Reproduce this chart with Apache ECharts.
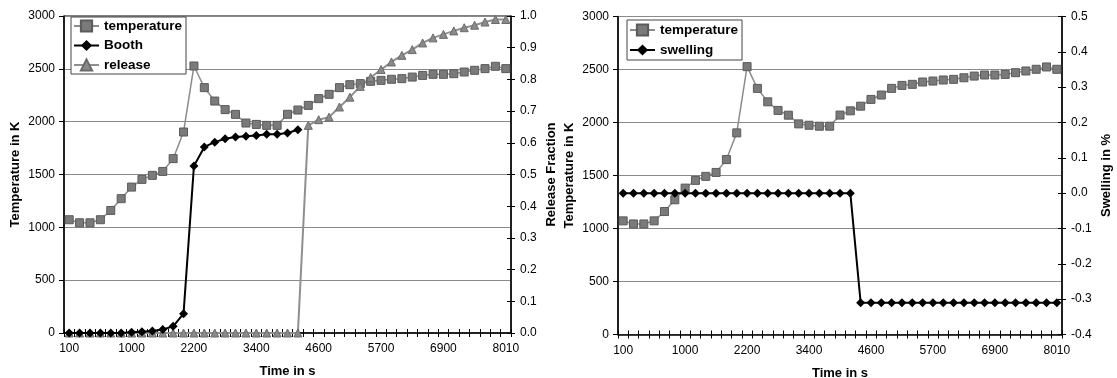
<!DOCTYPE html>
<html>
<head>
<meta charset="utf-8">
<script src="https://cdn.jsdelivr.net/npm/echarts@6/dist/echarts.min.js"></script>
<style>
html,body{margin:0;padding:0;background:#fff;}
#c{width:1117px;height:378px;}
</style>
</head>
<body>
<div id="c"></div>
<script>
// ---- data ----
var times = [100,250,400,550,700,850,1000,1200,1400,1600,1800,2000,2200,2400,2600,2800,3000,3200,3400,3600,3800,4000,4200,4400,4600,4800,5000,5200,5300,5500,5700,5900,6100,6300,6500,6700,6900,7100,7300,7500,7700,7900,8010];
var temperature = [1072,1043,1043,1072,1160,1271,1381,1454,1492,1529,1650,1902,2527,2322,2195,2114,2069,1987,1974,1965,1965,2070,2110,2154,2218,2259,2322,2350,2360,2382,2391,2401,2407,2422,2438,2448,2448,2454,2470,2486,2502,2524,2502];
var booth = [0,0,0,0,0,0,0.002,0.004,0.006,0.011,0.021,0.061,0.527,0.587,0.602,0.613,0.618,0.621,0.623,0.627,0.627,0.631,0.641];
var release = [0,0,0,0,0,0,0,0,0,0,0,0,0,0,0,0,0,0,0,0,0,0,0,0.655,0.673,0.681,0.713,0.744,0.778,0.806,0.831,0.855,0.876,0.894,0.915,0.931,0.942,0.953,0.963,0.971,0.981,0.989,0.989];
var swelling = [0,0,0,0,0,0,0,0,0,0,0,0,0,0,0,0,0,0,0,0,0,0,0,-0.31,-0.31,-0.31,-0.31,-0.31,-0.31,-0.31,-0.31,-0.31,-0.31,-0.31,-0.31,-0.31,-0.31,-0.31,-0.31,-0.31,-0.31,-0.31,-0.31];

var FONT = "'Liberation Sans', Arial, sans-serif";
var chart = echarts.init(document.getElementById('c'), null, {renderer:'canvas'});
function fmt1(v){ if (Math.abs(v) < 1e-9) return '0.0'; return v.toFixed(1); }
function fmt0(v){ return String(Math.round(v)); }

var G0 = {left:64, top:16, width:447, height:317};
var G1 = {left:618, top:16.5, width:444, height:318};
function grid(g, border){
  return {left:g.left, top:g.top, width:g.width, height:g.height, containLabel:false, outerBoundsMode:'none',
    show:border, borderColor:'#000', borderWidth:1, backgroundColor:'transparent'};
}
var lbl = {fontFamily:FONT, fontSize:12, color:'#000'};
var nameStyle = {fontFamily:FONT, fontSize:13, fontWeight:'bold', color:'#000'};

function mainX(gi){
  return {type:'category', gridIndex:gi, data:times, boundaryGap:true, position:'bottom',
    axisLine:{show:true, onZero:false, lineStyle:{color:'#000', width:1.5}},
    axisTick:{show:true, interval:0, inside:false, length:4, lineStyle:{color:'#000'}},
    axisLabel:Object.assign({interval:5, margin:10}, lbl),
    splitLine:{show:false},
    name:'Time in s', nameLocation:'middle', nameGap:32, nameTextStyle:nameStyle};
}
function overlayX(gi){
  return {type:'category', gridIndex:gi, data:times, boundaryGap:true, position:'bottom',
    axisLine:{show:false, onZero:false}, axisLabel:{show:false}, splitLine:{show:false},
    axisTick:{show:true, interval:0, inside:true, length:4, lineStyle:{color:'#000'}}};
}

var option = {
  animation:false,
  backgroundColor:'#fff',
  grid:[grid(G0,true), grid(G1,true), grid(G0,false), grid(G1,false)],
  legend:[
    {orient:'vertical', left:71, top:17, itemWidth:25, itemHeight:14, itemGap:5.5,
     padding:[2,4,2,2], borderColor:'#444', borderWidth:1, backgroundColor:'#fff',
     data:['temperature','Booth','release'], selectedMode:false,
     textStyle:{fontFamily:FONT, fontSize:13.5, fontWeight:'bold', color:'#000'}},
    {orient:'vertical', left:627, top:20, itemWidth:25, itemHeight:14, itemGap:6,
     padding:[3,4,3,2], borderColor:'#444', borderWidth:1, backgroundColor:'#fff',
     data:['temperature','swelling'], selectedMode:false,
     textStyle:{fontFamily:FONT, fontSize:13.5, fontWeight:'bold', color:'#000'}}
  ],
  xAxis:[mainX(0), mainX(1), overlayX(2), overlayX(3)],
  yAxis:[
    {type:'value', gridIndex:0, position:'left', min:0, max:3000, interval:500,
     axisLine:{show:true, lineStyle:{color:'#000', width:1.5}},
     axisTick:{show:true, length:5, lineStyle:{color:'#000'}},
     axisLabel:Object.assign({margin:9, formatter:fmt0}, lbl),
     splitLine:{show:true, lineStyle:{color:'#8a8a8a', width:1}},
     name:'Temperature in K', nameLocation:'middle', nameGap:42, nameTextStyle:nameStyle},
    {type:'value', gridIndex:0, position:'right', min:0, max:1, interval:0.1,
     axisLine:{show:true, lineStyle:{color:'#000', width:1.5}},
     axisTick:{show:true, length:4, lineStyle:{color:'#000'}},
     axisLabel:Object.assign({margin:9, formatter:fmt1}, lbl),
     splitLine:{show:false},
     name:'Release Fraction', nameLocation:'middle', nameGap:34, nameTextStyle:nameStyle},
    {type:'value', gridIndex:1, position:'left', min:0, max:3000, interval:500,
     axisLine:{show:true, lineStyle:{color:'#000', width:1.5}},
     axisTick:{show:true, length:5, lineStyle:{color:'#000'}},
     axisLabel:Object.assign({margin:9, formatter:fmt0}, lbl),
     splitLine:{show:true, lineStyle:{color:'#8a8a8a', width:1}},
     name:'Temperature in K', nameLocation:'middle', nameGap:42, nameTextStyle:nameStyle},
    {type:'value', gridIndex:1, position:'right', min:-0.4, max:0.5, interval:0.1,
     axisLine:{show:true, lineStyle:{color:'#000', width:1.5}},
     axisTick:{show:true, length:4, lineStyle:{color:'#000'}},
     axisLabel:Object.assign({margin:9, formatter:fmt1}, lbl),
     splitLine:{show:false},
     name:'Swelling in %', nameLocation:'middle', nameGap:38, nameTextStyle:nameStyle},
    {type:'value', gridIndex:2, position:'right', min:0, max:1, interval:0.1,
     axisLine:{show:false}, axisLabel:{show:false}, splitLine:{show:false},
     axisTick:{show:true, inside:true, length:4, lineStyle:{color:'#000'}}},
    {type:'value', gridIndex:3, position:'right', min:-0.4, max:0.5, interval:0.1,
     axisLine:{show:false}, axisLabel:{show:false}, splitLine:{show:false},
     axisTick:{show:true, inside:true, length:4, lineStyle:{color:'#000'}}}
  ],
  series:[
    {name:'temperature', type:'line', xAxisIndex:0, yAxisIndex:0, data:temperature,
     symbol:'rect', symbolSize:8, showAllSymbol:true,
     lineStyle:{color:'#8c8c8c', width:1.5}, itemStyle:{color:'#7a7a7a', borderColor:'#5a5a5a', borderWidth:1}},
    {name:'release', type:'line', xAxisIndex:0, yAxisIndex:1, data:release,
     symbol:'triangle', symbolSize:8, showAllSymbol:true,
     lineStyle:{color:'#8f8f8f', width:2}, itemStyle:{color:'#8a8a8a', borderColor:'#6a6a6a', borderWidth:1}},
    {name:'Booth', type:'line', xAxisIndex:0, yAxisIndex:1, data:booth,
     symbol:'diamond', symbolSize:9, showAllSymbol:true,
     lineStyle:{color:'#000', width:2}, itemStyle:{color:'#000'}},
    {name:'temperature', type:'line', xAxisIndex:1, yAxisIndex:2, data:temperature,
     symbol:'rect', symbolSize:8, showAllSymbol:true,
     lineStyle:{color:'#8c8c8c', width:1.5}, itemStyle:{color:'#7a7a7a', borderColor:'#5a5a5a', borderWidth:1}},
    {name:'swelling', type:'line', xAxisIndex:1, yAxisIndex:3, data:swelling,
     symbol:'diamond', symbolSize:9, showAllSymbol:true,
     lineStyle:{color:'#000', width:2}, itemStyle:{color:'#000'}}
  ]
};
chart.setOption(option);
</script>
</body>
</html>
